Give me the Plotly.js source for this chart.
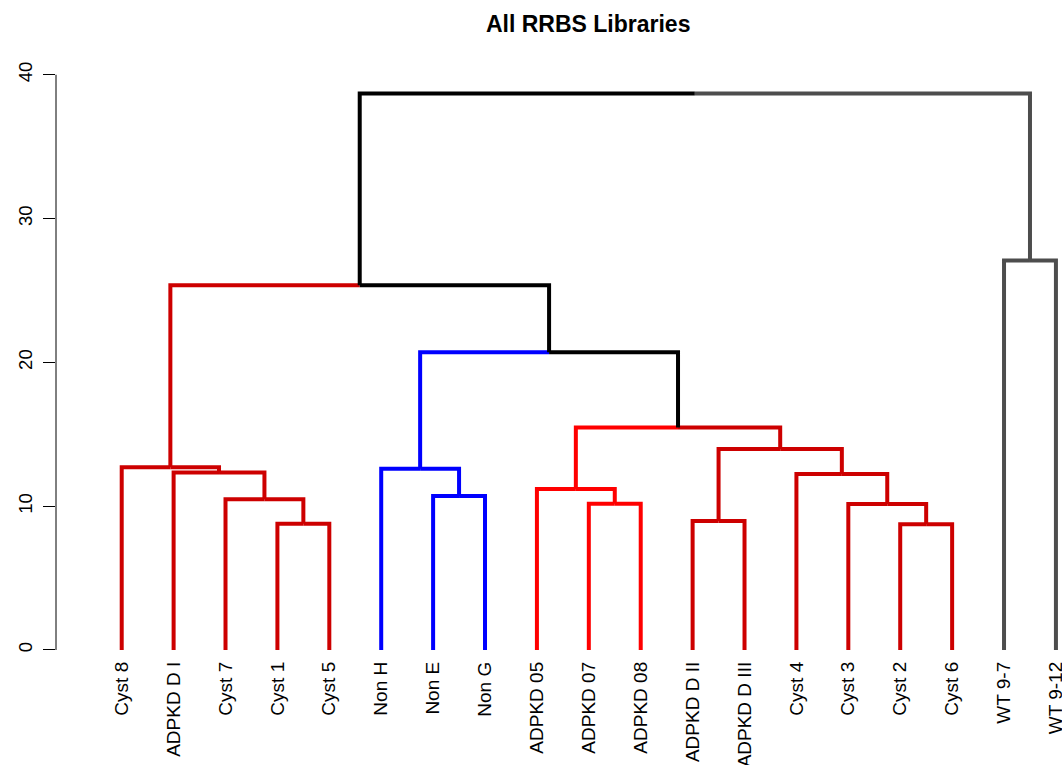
<!DOCTYPE html>
<html>
<head>
<meta charset="utf-8">
<script src="https://cdn.plot.ly/plotly-3.0.1.min.js"></script>
<style>
  html, body { margin: 0; padding: 0; background: #ffffff; }
  #chart { width: 1062px; height: 765px; }
</style>
</head>
<body>
<div id="chart"></div>
<script>
// Leaf labels, in dendrogram order (left to right)
const leafLabels = [
  "Cyst 8", "ADPKD D I", "Cyst 7", "Cyst 1", "Cyst 5",
  "Non H", "Non E", "Non G",
  "ADPKD 05", "ADPKD 07", "ADPKD 08",
  "ADPKD D II", "ADPKD D III", "Cyst 4", "Cyst 3", "Cyst 2", "Cyst 6",
  "WT 9-7", "WT 9-12"
];

// Branch colour of each leaf
const leafColors = [
  "#CD0000", "#CD0000", "#CD0000", "#CD0000", "#CD0000",
  "#0000FF", "#0000FF", "#0000FF",
  "#FF0000", "#FF0000", "#FF0000",
  "#CD0000", "#CD0000", "#CD0000", "#CD0000", "#CD0000", "#CD0000",
  "#4D4D4D", "#4D4D4D"
];

// Merge steps (hclust style): negative = leaf position, positive = earlier step
const mergeLeft  = [-4, -16, -12, -15, -10, -3, -7, -9, -14, -2, -6, -1,  3,  8, 11, 12, -18, 16];
const mergeRight = [-5, -17, -13,   2, -11,  1, -8,  5,   4,  6,  7, 10,  9, 13, 14, 15, -19, 17];

// Merge heights
const mergeHeights = [8.77, 8.74, 8.97, 10.15, 10.17, 10.48, 10.71, 11.20, 12.24,
                      12.34, 12.60, 12.71, 13.98, 15.47, 20.71, 25.36, 27.08, 38.70];

// Branch colour above each merge node (the root has no branch)
const mergeColors = [
  "#CD0000", "#CD0000", "#CD0000", "#CD0000", "#FF0000", "#CD0000", "#0000FF", "#FF0000",
  "#CD0000", "#CD0000", "#0000FF", "#CD0000", "#CD0000", "#000000", "#000000", "#000000",
  "#4D4D4D", "#000000"
];

const yTicks = [0, 10, 20, 30, 40];

// ---- node positions: leaves at 1..n, merges centred over their children ----
const mergeX = [];
function nodeInfo(ref) {
  if (ref < 0) {
    const i = -ref;
    return { x: i, h: 0, color: leafColors[i - 1] };
  }
  return { x: mergeX[ref - 1], h: mergeHeights[ref - 1], color: mergeColors[ref - 1] };
}
for (let s = 0; s < mergeHeights.length; s++) {
  const a = nodeInfo(mergeLeft[s]);
  const b = nodeInfo(mergeRight[s]);
  mergeX.push((a.x + b.x) / 2);
}

// ---- branch segments grouped by colour ----
const byColor = {};
function addBranch(px, ph, child) {
  const c = child.color;
  if (!byColor[c]) byColor[c] = { x: [], y: [] };
  const t = byColor[c];
  t.x.push(px, child.x, child.x, null);
  t.y.push(ph, ph, child.h, null);
}
for (let s = 0; s < mergeHeights.length; s++) {
  const px = mergeX[s], ph = mergeHeights[s];
  addBranch(px, ph, nodeInfo(mergeLeft[s]));
  addBranch(px, ph, nodeInfo(mergeRight[s]));
}

const traces = Object.keys(byColor).map(c => ({
  type: "scatter",
  mode: "lines",
  x: byColor[c].x,
  y: byColor[c].y,
  line: { color: c, width: 4 },
  connectgaps: false,
  cliponaxis: false,
  hoverinfo: "skip",
  showlegend: false
}));

const font = "Liberation Sans, Arial, Helvetica, sans-serif";

const layout = {
  width: 1062,
  height: 765,
  margin: { l: 56, r: 0, t: 70, b: 112, pad: 0 },
  paper_bgcolor: "#ffffff",
  plot_bgcolor: "#ffffff",
  font: { family: font, color: "#000000" },
  title: {
    text: "<b>All RRBS Libraries</b>",
    font: { family: font, size: 23, color: "#000000" },
    xref: "paper", x: 0.529, xanchor: "center",
    yref: "container", y: 1 - 24 / 765, yanchor: "middle"
  },
  xaxis: {
    range: [-0.266, 19.117],
    tickmode: "array",
    tickvals: leafLabels.map((_, i) => i + 1),
    ticktext: leafLabels,
    tickangle: -90,
    tickfont: { family: font, size: 19, color: "#000000" },
    ticks: "",
    ticklabelstandoff: 4,
    ticklabeloverflow: "allow",
    showline: false,
    showgrid: false,
    zeroline: false,
    fixedrange: true
  },
  yaxis: {
    range: [-0.21, 40.33],
    tickmode: "array",
    tickvals: yTicks,
    ticktext: yTicks.map(String),
    tickangle: -90,
    ticks: "outside",
    ticklen: 12,
    tickwidth: 1,
    tickcolor: "#000000",
    ticklabelstandoff: 4,
    tickfont: { family: font, size: 18.5, color: "#000000" },
    showline: false,
    showgrid: false,
    zeroline: false,
    fixedrange: true
  },
  shapes: [{
    type: "line", xref: "paper", yref: "y",
    x0: 0, x1: 0, y0: yTicks[0], y1: yTicks[yTicks.length - 1],
    line: { color: "#000000", width: 1 }
  }]
};

Plotly.newPlot("chart", traces, layout, { displayModeBar: false, staticPlot: true });
</script>
</body>
</html>
